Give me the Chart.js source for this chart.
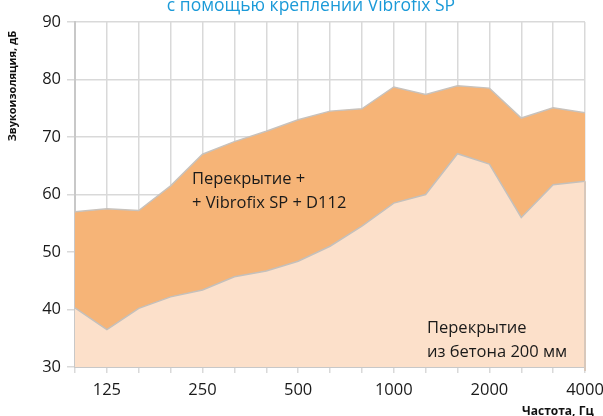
<!DOCTYPE html>
<html>
<head>
<meta charset="utf-8">
<script src="https://cdn.jsdelivr.net/npm/chart.js@4.4.1/dist/chart.umd.min.js"></script>
<style>
  html, body { margin: 0; padding: 0; background: #fff; }
  #wrap { width: 603px; height: 416px; position: relative; }
</style>
</head>
<body>
<div id="wrap"><canvas id="chart" width="603" height="416"></canvas></div>
<script>
'use strict';

// частоты третьоктавных полос, Гц
const freqs = ['100', '125', '160', '200', '250', '315', '400', '500', '630', '800',
               '1000', '1250', '1600', '2000', '2500', '3150', '4000'];
const shownFreqs = ['125', '250', '500', '1000', '2000', '4000'];

// Перекрытие + Vibrofix SP + D112
const withVibrofix = [57.0, 57.5, 57.2, 61.5, 67.0, 69.2, 71.0, 73.0, 74.5, 74.9,
                      78.7, 77.4, 78.9, 78.5, 73.3, 75.1, 74.2];
// Перекрытие из бетона 200 мм
const concrete = [40.3, 36.5, 40.2, 42.2, 43.4, 45.7, 46.7, 48.4, 51.0, 54.5,
                  58.5, 60.0, 67.1, 65.3, 56.0, 61.7, 62.3];

const yTicks = [30, 40, 50, 60, 70, 80, 90];

const FONT = '"Open Sans", "Liberation Sans", sans-serif';

// подписи, заголовок и названия осей
const textPlugin = {
    id: 'texts',
    afterDatasetsDraw(chart) {
        const ctx = chart.ctx;
        const x = chart.scales.x;
        const y = chart.scales.y;

        // правая граница области
        const last = freqs.length - 1;
        ctx.save();
        ctx.strokeStyle = '#d8c8bb';
        ctx.lineWidth = 2;
        ctx.beginPath();
        ctx.moveTo(x.getPixelForValue(last), y.getPixelForValue(concrete[last]));
        ctx.lineTo(x.getPixelForValue(last), y.getPixelForValue(30) + 4);
        ctx.stroke();

        ctx.fillStyle = '#1a1a1a';
        ctx.font = '16.5px ' + FONT;
        ctx.textAlign = 'left';
        ctx.textBaseline = 'middle';
        ctx.fillText('Перекрытие +', 192, 179);
        ctx.fillText('+ Vibrofix SP + D112', 192, 203);
        ctx.fillText('Перекрытие', 427, 328);
        ctx.fillText('из бетона 200 мм', 427, 352);

        // заголовок (обрезан сверху)
        ctx.fillStyle = '#1b9ad8';
        ctx.font = '17.5px ' + FONT;
        ctx.textAlign = 'center';
        ctx.textBaseline = 'alphabetic';
        ctx.fillText('с помощью креплений Vibrofix SP', 311, 11);

        // названия осей
        ctx.fillStyle = '#111';
        ctx.font = 'bold 12px ' + FONT;
        ctx.textAlign = 'left';
        ctx.fillText('Частота, Гц', 522, 415);

        ctx.font = 'bold 11px ' + FONT;
        ctx.translate(16, 86);
        ctx.rotate(-Math.PI / 2);
        ctx.textAlign = 'center';
        ctx.fillText('Звукоизоляция, дБ', 0, 0);
        ctx.restore();
    }
};

const ctx = document.getElementById('chart').getContext('2d');
const myChart = new Chart(ctx, {
    type: 'line',
    data: {
        labels: freqs,
        datasets: [
            {
                label: 'Перекрытие из бетона 200 мм',
                data: concrete,
                borderColor: '#c4c0bc',
                borderWidth: 1.5,
                backgroundColor: '#fce0ca',
                fill: 'origin',
                pointRadius: 0,
                tension: 0,
                order: 0
            },
            {
                label: 'Перекрытие + Vibrofix SP + D112',
                data: withVibrofix,
                borderColor: '#c8c2bc',
                borderWidth: 1.5,
                backgroundColor: '#f6b477',
                fill: 'origin',
                pointRadius: 0,
                tension: 0,
                order: 1
            }
        ]
    },
    options: {
        responsive: false,
        animation: false,
        layout: { padding: { top: 22, right: 18, left: 0, bottom: 0 } },
        plugins: {
            legend: { display: false },
            title: { display: false },
            tooltip: { enabled: false }
        },
        scales: {
            x: {
                offset: false,
                grid: {
                    color: '#d9d9d9',
                    lineWidth: 1.5,
                    drawTicks: true,
                    tickLength: 6
                },
                border: { color: '#c8c8c8', width: 2 },
                ticks: {
                    autoSkip: false,
                    maxRotation: 0,
                    color: '#1a1a1a',
                    font: { family: FONT, size: 16.5 },
                    padding: 7,
                    callback: function (value) {
                        const f = freqs[value];
                        return shownFreqs.includes(f) ? f : '';
                    }
                },
                afterFit: function (scale) {
                    scale.height = 49;
                    scale.paddingLeft = 0;
                    scale.paddingRight = 0;
                }
            },
            y: {
                min: 30,
                max: 90,
                afterBuildTicks: function (scale) {
                    scale.ticks = yTicks.map(v => ({ value: v }));
                },
                grid: {
                    color: '#d9d9d9',
                    lineWidth: 1.5,
                    tickLength: 8
                },
                border: { color: '#c8c8c8', width: 2 },
                ticks: {
                    color: '#1a1a1a',
                    font: { family: FONT, size: 16.5 },
                    padding: 6
                },
                afterFit: function (scale) {
                    scale.width = 75;
                    scale.paddingTop = 0;
                    scale.paddingBottom = 0;
                }
            }
        }
    },
    plugins: [textPlugin]
});
</script>
</body>
</html>
